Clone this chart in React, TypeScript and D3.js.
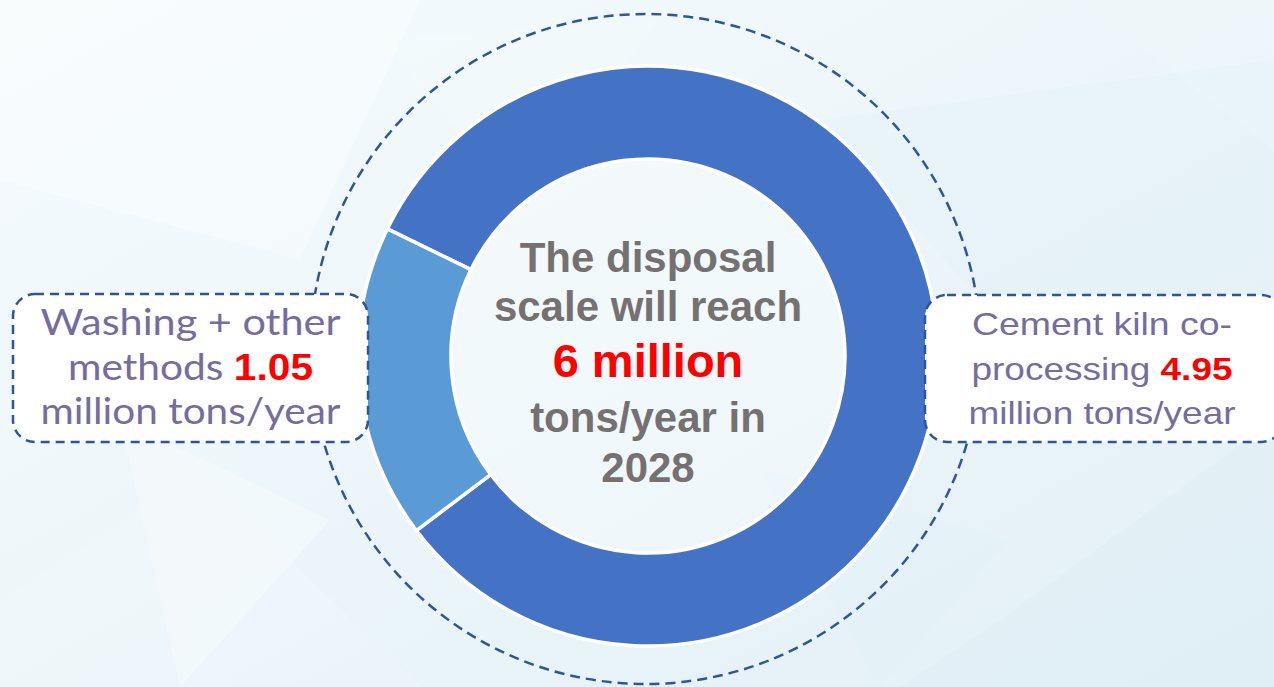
import React from "react";
import * as d3 from "d3";

const categories = ["Cement kiln co-processing", "Washing + other methods"];
const values = [4.95, 1.05];
const sliceColors = ["#4472C4", "#5B9BD5"];
const targetYear = "2028";
const unit = "million tons/year";

const leftLines = [
  { plain: "Washing + other", value: "" },
  { plain: "methods ", value: values[1].toFixed(2) },
  { plain: unit, value: "" },
];
const rightLines = [
  { plain: "Cement kiln co-", value: "" },
  { plain: "processing ", value: values[0].toFixed(2) },
  { plain: unit, value: "" },
];
const leftLineWidths = [300, 245, 300];
const rightLineWidths = [260, 261, 267];

const W = 1274;
const H = 687;

// decorative low-poly background shards
const shards: [number, number][][] = [
  [[0, 0], [420, 0], [300, 260], [0, 180]],
  [[380, 40], [660, 20], [520, 200]],
  [[820, 120], [1274, 60], [1274, 330], [980, 300]],
  [[1000, 620], [1274, 420], [1274, 687], [900, 687]],
  [[0, 600], [200, 470], [420, 687], [0, 687]],
  [[760, 470], [1010, 540], [880, 687]],
  [[1080, 0], [1274, 0], [1274, 150]],
  [[120, 420], [330, 520], [180, 687]],
];
const shardFills = ["#ffffff", "#f6fbfd", "#ddeef6", "#d9ecf5", "#f3f9fc", "#e2f1f7", "#eef7fb", "#ffffff"];

export default function App() {
  const cx = 648;
  const cy = 356;
  const rOuter = 290;
  const rInner = 197;

  const pie = d3
    .pie<number>()
    .sort(null)
    .startAngle((-64 * Math.PI) / 180)
    .endAngle((-64 * Math.PI) / 180 + 2 * Math.PI)
    .value((d) => d);
  const arcs = pie(values);
  const arcGen = d3.arc<d3.PieArcDatum<number>>().innerRadius(rInner).outerRadius(rOuter);

  const total = d3.sum(values);
  const centerLines = [
    { text: "The disposal", red: false, size: 42 },
    { text: "scale will reach", red: false, size: 42 },
    { text: `${total} million`, red: true, size: 47 },
    { text: "tons/year in", red: false, size: 42 },
    { text: targetYear, red: false, size: 42 },
  ];
  const centerBaselines = [272, 321, 377, 432, 482];

  const labelBaselines = [335, 380, 424];

  const line = d3.line();

  return (
    <svg
      width={W}
      height={H}
      viewBox={`0 0 ${W} ${H}`}
      style={{ position: "absolute", left: 0, top: 0, display: "block" }}
    >
      <defs>
        <linearGradient id="bg" x1="0" y1="0" x2="1" y2="1">
          <stop offset="0%" stopColor="#F6FBFD" />
          <stop offset="55%" stopColor="#EBF5F9" />
          <stop offset="100%" stopColor="#E2F0F6" />
        </linearGradient>
      </defs>
      <rect x={0} y={0} width={W} height={H} fill="url(#bg)" />
      {shards.map((pts, i) => (
        <path key={i} d={line(pts)! + "Z"} fill={shardFills[i]} opacity={0.3} />
      ))}

      {/* dashed outer circle */}
      <circle
        cx={645.5}
        cy={349}
        r={335}
        fill="none"
        stroke="#2F5597"
        strokeWidth={2.5}
        strokeDasharray="10 6"
      />

      {/* inner disc */}
      <circle cx={cx} cy={cy} r={rInner} fill="#ffffff" fillOpacity={0.3} />

      {/* donut */}
      <g transform={`translate(${cx},${cy})`}>
        {arcs.map((a, i) => (
          <path
            key={categories[i]}
            d={arcGen(a)!}
            fill={sliceColors[i]}
            stroke="#ffffff"
            strokeWidth={3.5}
            strokeLinejoin="miter"
          />
        ))}
      </g>

      {/* center text */}
      {centerLines.map((l, i) => (
        <text
          key={i}
          x={cx}
          y={centerBaselines[i]}
          textAnchor="middle"
          fontFamily="'Liberation Sans', Arial, sans-serif"
          fontWeight="bold"
          fontSize={l.size}
          fill={l.red ? "#FF0000" : "#767171"}
        >
          {l.text}
        </text>
      ))}

      {/* left callout */}
      <rect
        x={13}
        y={294}
        width={355}
        height={148}
        rx={22}
        ry={22}
        fill="#ffffff"
        stroke="#2F5597"
        strokeWidth={2.5}
        strokeDasharray="9 6"
      />
      {leftLines.map((l, i) => (
        <text
          key={i}
          x={190.5}
          y={labelBaselines[i]}
          textAnchor="middle"
          fontFamily="Lato, 'Noto Sans', sans-serif"
          fontSize={37}
          fill="#756C9F"
          textLength={leftLineWidths[i]}
          lengthAdjust="spacingAndGlyphs"
        >
          {l.plain}
          {l.value && (
            <tspan fill="#FF0000" fontWeight="bold" fontFamily="'Liberation Sans', Arial, sans-serif">
              {l.value}
            </tspan>
          )}
        </text>
      ))}

      {/* right callout */}
      <rect
        x={925}
        y={295}
        width={358}
        height={147}
        rx={22}
        ry={22}
        fill="#ffffff"
        stroke="#2F5597"
        strokeWidth={2.5}
        strokeDasharray="9 6"
      />
      {rightLines.map((l, i) => (
        <text
          key={i}
          x={1102}
          y={labelBaselines[i]}
          textAnchor="middle"
          fontFamily="'Liberation Sans', Arial, sans-serif"
          fontSize={31.5}
          fill="#756C9F"
          textLength={rightLineWidths[i]}
          lengthAdjust="spacingAndGlyphs"
        >
          {l.plain}
          {l.value && (
            <tspan fill="#FF0000" fontWeight="bold">
              {l.value}
            </tspan>
          )}
        </text>
      ))}
    </svg>
  );
}
